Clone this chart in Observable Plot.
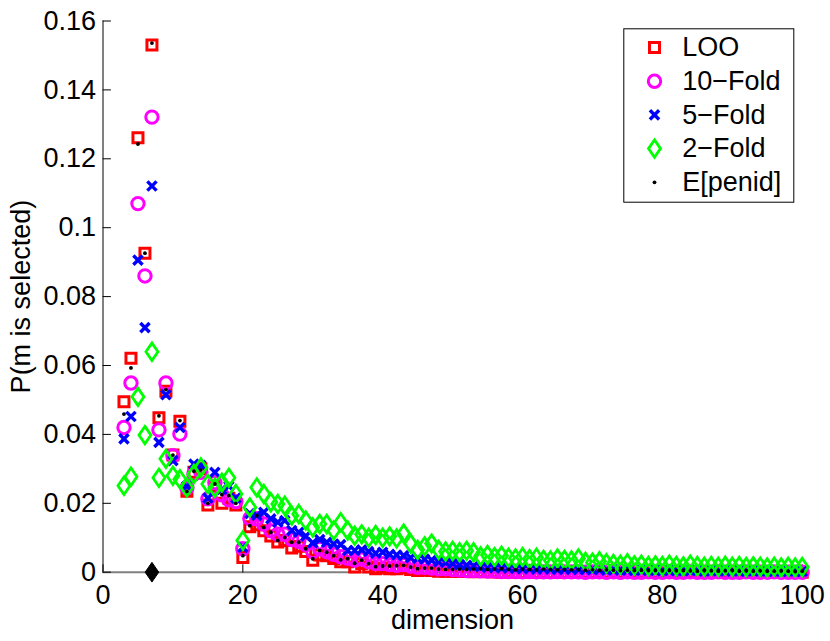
<!DOCTYPE html>
<html>
<head>
<meta charset="utf-8">
<script src="https://cdn.jsdelivr.net/npm/d3@7"></script>
<script src="https://cdn.jsdelivr.net/npm/@observablehq/plot@0.6"></script>
<style>
  body { margin: 0; background: #fff; }
  #chart svg { display: block; }
</style>
</head>
<body>
<div id="chart"></div>
<script>
// dimensions 3..100
const dims = d3.range(3, 101);

const loo = [
  0.0495,0.0621,0.1261,0.0926,0.1530,0.0448,0.0525,0.0340,0.0438,0.0235,
  0.0290,0.0300,0.0195,0.0250,0.0200,0.0215,0.0195,0.0043,0.0132,0.0138,
  0.0120,0.0105,0.0088,0.0092,0.0070,0.0075,0.0060,0.0035,0.0050,0.0048,
  0.0040,0.0030,0.0030,0.0015,0.0025,0.0015,0.0010,0.0012,0.0010,0.0010,
  0.0012,0.0008,0.0005,0.0006,0.0005,0.0003,0.0003,0.0003,0.0002,0.0002,
  0.0001,0.0002,0.0001,0.0001,0,0.0001,0,0,0.0001,0,
  0,0,0,0,0,0,0,0,0,0,
  0,0,0,0,0,0,0,0,0,0,
  0,0,0,0,0,0,0,0,0,0,
  0,0,0,0,0,0,0,0
];
const fold10 = [
  0.0420,0.0549,0.1070,0.0860,0.1321,0.0413,0.0549,0.0338,0.0401,0.0245,
  0.0285,0.0290,0.0213,0.0260,0.0225,0.0210,0.0205,0.0068,0.0156,0.0155,
  0.0140,0.0120,0.0110,0.0110,0.0095,0.0090,0.0080,0.0060,0.0068,0.0060,
  0.0052,0.0045,0.0040,0.0035,0.0038,0.0030,0.0025,0.0025,0.0022,0.0020,
  0.0022,0.0018,0.0014,0.0014,0.0012,0.0010,0.0010,0.0008,0.0006,0.0005,
  0.0005,0.0004,0.0003,0.0003,0.0002,0.0002,0.0002,0.0001,0.0002,0.0001,
  0.0001,0.0001,0.0002,0.0001,0.0001,0.0001,0,0.0001,0.0001,0,
  0.0001,0,0.0001,0,0,0.0001,0,0,0.0001,0,
  0,0.0001,0,0,0,0.0001,0,0,0,0.0001,
  0,0,0,0.0001,0,0,0,0
];
const fold5 = [
  0.0387,0.0452,0.0906,0.0710,0.1121,0.0377,0.0515,0.0324,0.0420,0.0250,
  0.0314,0.0310,0.0215,0.0290,0.0240,0.0250,0.0215,0.0072,0.0170,0.0165,
  0.0174,0.0155,0.0145,0.0150,0.0121,0.0116,0.0105,0.0085,0.0095,0.0087,
  0.0082,0.0080,0.0063,0.0063,0.0065,0.0060,0.0055,0.0058,0.0052,0.0050,
  0.0048,0.0042,0.0040,0.0038,0.0035,0.0030,0.0028,0.0025,0.0022,0.0020,
  0.0018,0.0016,0.0014,0.0013,0.0012,0.0012,0.0011,0.0010,0.0010,0.0009,
  0.0010,0.0009,0.0008,0.0009,0.0008,0.0008,0.0007,0.0008,0.0007,0.0006,
  0.0007,0.0006,0.0006,0.0005,0.0006,0.0005,0.0005,0.0004,0.0005,0.0004,
  0.0004,0.0005,0.0004,0.0003,0.0004,0.0004,0.0003,0.0004,0.0003,0.0003,
  0.0004,0.0003,0.0003,0.0003,0.0002,0.0003,0.0003,0.0002
];
const fold2 = [
  0.0251,0.0277,0.0509,0.0398,0.0640,0.0274,0.0329,0.0280,0.0270,0.0246,
  0.0285,0.0304,0.0256,0.0245,0.0260,0.0274,0.0227,0.0092,0.0188,0.0246,
  0.0227,0.0203,0.0198,0.0193,0.0164,0.0169,0.0150,0.0130,0.0140,0.0140,
  0.0121,0.0145,0.0121,0.0106,0.0110,0.0100,0.0108,0.0100,0.0104,0.0098,
  0.0112,0.0083,0.0065,0.0075,0.0083,0.0065,0.0060,0.0062,0.0058,0.0062,
  0.0058,0.0046,0.0050,0.0044,0.0048,0.0042,0.0040,0.0044,0.0038,0.0042,
  0.0036,0.0034,0.0040,0.0036,0.0034,0.0040,0.0030,0.0028,0.0032,0.0026,
  0.0024,0.0022,0.0026,0.0020,0.0022,0.0018,0.0020,0.0018,0.0022,0.0018,
  0.0017,0.0022,0.0018,0.0016,0.0018,0.0016,0.0019,0.0016,0.0018,0.0015,
  0.0017,0.0016,0.0014,0.0016,0.0014,0.0016,0.0014,0.0015
];
const epenid = [
  0.0459,0.0593,0.1243,0.0926,0.1536,0.0454,0.0530,0.0340,0.0440,0.0235,
  0.0293,0.0297,0.0200,0.0256,0.0225,0.0222,0.0200,0.0048,0.0135,0.0164,
  0.0130,0.0116,0.0092,0.0101,0.0087,0.0087,0.0068,0.0039,0.0063,0.0058,
  0.0048,0.0036,0.0039,0.0026,0.0035,0.0025,0.0016,0.0018,0.0018,0.0019,
  0.0020,0.0015,0.0010,0.0012,0.0012,0.0009,0.0008,0.0008,0.0009,0.0008,
  0.0009,0.0010,0.0008,0.0009,0.0010,0.0008,0.0007,0.0009,0.0008,0.0007,
  0.0009,0.0008,0.0007,0.0008,0.0007,0.0008,0.0006,0.0007,0.0006,0.0007,
  0.0006,0.0005,0.0006,0.0005,0.0006,0.0005,0.0005,0.0004,0.0005,0.0004,
  0.0005,0.0004,0.0003,0.0005,0.0004,0.0003,0.0004,0.0005,0.0003,0.0004,
  0.0003,0.0004,0.0003,0.0003,0.0004,0.0003,0.0002,0.0003
];
const trueDim = [7];

const seriesNames = ["LOO", "10\u2212Fold", "5\u2212Fold", "2\u2212Fold", "E[penid]"];
const xTicks = [0, 20, 40, 60, 80, 100];
const yTicks = [0, 0.02, 0.04, 0.06, 0.08, 0.1, 0.12, 0.14, 0.16];

// custom MATLAB-like marker shapes
const squareSym = {draw(ctx, size) { const k = Math.sqrt(size / Math.PI); ctx.moveTo(-k, -k); ctx.lineTo(k, -k); ctx.lineTo(k, k); ctx.lineTo(-k, k); ctx.closePath(); }};
const timesSym = {draw(ctx, size) { const k = Math.sqrt(size / Math.PI); ctx.moveTo(-k, -k); ctx.lineTo(k, k); ctx.moveTo(k, -k); ctx.lineTo(-k, k); }};
const diamondSym = {draw(ctx, size) { const k = Math.sqrt(size / Math.PI); ctx.moveTo(0, -1.45 * k); ctx.lineTo(k, 0); ctx.lineTo(0, 1.45 * k); ctx.lineTo(-k, 0); ctx.closePath(); }};
const tickShape = {draw(ctx, l) { ctx.moveTo(0, 0); ctx.lineTo(0, -l); }};

const styles = [
  {values: loo,    symbol: squareSym,  r: 5.0, stroke: "#ff0000", strokeWidth: 3.0, fill: "none"},
  {values: fold10, symbol: "circle",   r: 6.2, stroke: "#ff00ff", strokeWidth: 3.0, fill: "none"},
  {values: fold5,  symbol: timesSym,   r: 4.6, stroke: "#0000ff", strokeWidth: 3.4, fill: "none"},
  {values: fold2,  symbol: diamondSym, r: 6.0, stroke: "#00ff00", strokeWidth: 2.8, fill: "none"},
  {values: epenid, symbol: "circle",   r: 1.9, stroke: "none",    strokeWidth: 0,   fill: "#000000"}
];

const rowsOf = (vals) => dims.map((d, i) => ({dim: d, p: vals[i]}));

const dataMarks = styles.map(s => Plot.dot(rowsOf(s.values), {
  x: "dim", y: "p", symbol: s.symbol, r: s.r,
  stroke: s.stroke, strokeWidth: s.strokeWidth, fill: s.fill
}));

const legendX = 551.5, legendTextX = 579.2;
const legendMarks = [];
styles.forEach((s, i) => {
  const dy = 26.5 + i * 33.7;
  legendMarks.push(Plot.dot([seriesNames[i]], {
    frameAnchor: "top-left", dx: legendX, dy,
    symbol: s.symbol, r: s.r, stroke: s.stroke, strokeWidth: s.strokeWidth, fill: s.fill
  }));
  legendMarks.push(Plot.text([seriesNames[i]], {
    frameAnchor: "top-left", dx: legendTextX, dy, text: d => d,
    textAnchor: "start", lineAnchor: "middle", fontSize: 27, fill: "black"
  }));
});

const chart = Plot.plot({
  width: 830,
  height: 641,
  marginLeft: 102.5,
  marginRight: 28.3,
  marginTop: 20.5,
  marginBottom: 69.3,
  style: {fontFamily: "'Liberation Sans', Arial, Helvetica, sans-serif", fontSize: "27px", background: "white", color: "black"},
  x: {domain: [0, 100]},
  y: {domain: [0, 0.16]},
  marks: [
    Plot.ruleX([0], {stroke: "#808080", strokeWidth: 2}),
    Plot.ruleY([0], {stroke: "#808080", strokeWidth: 2}),
    Plot.vector(xTicks, {x: d => d, y: d => 0, length: 7.5, rotate: 0, anchor: "start", shape: tickShape, stroke: "black", strokeWidth: 1}),
    Plot.vector(yTicks, {x: d => 0, y: d => d, length: 7.5, rotate: 90, anchor: "start", shape: tickShape, stroke: "black", strokeWidth: 1}),
    ...dataMarks,
    Plot.dot(trueDim, {x: d => d, y: d => 0, symbol: diamondSym, r: 6.8, fill: "black", stroke: "black", strokeWidth: 1}),
    Plot.axisX({ticks: xTicks, tickSize: 0, tickPadding: 13, fontSize: 27, tickFormat: d => String(d),
      label: "dimension", labelAnchor: "center", labelOffset: 57, labelArrow: false}),
    Plot.axisY({ticks: yTicks, tickSize: 0, tickPadding: 7, fontSize: 27, tickFormat: d => String(d),
      label: "P(m is selected)", labelAnchor: "center", labelOffset: 92, labelArrow: false}),
    Plot.frame({insetLeft: 520.8, insetRight: 8.4, insetTop: 7.8, insetBottom: 370, stroke: "black", strokeWidth: 1, fill: "white"}),
    ...legendMarks
  ]
});
document.getElementById("chart").appendChild(chart);
</script>
</body>
</html>
